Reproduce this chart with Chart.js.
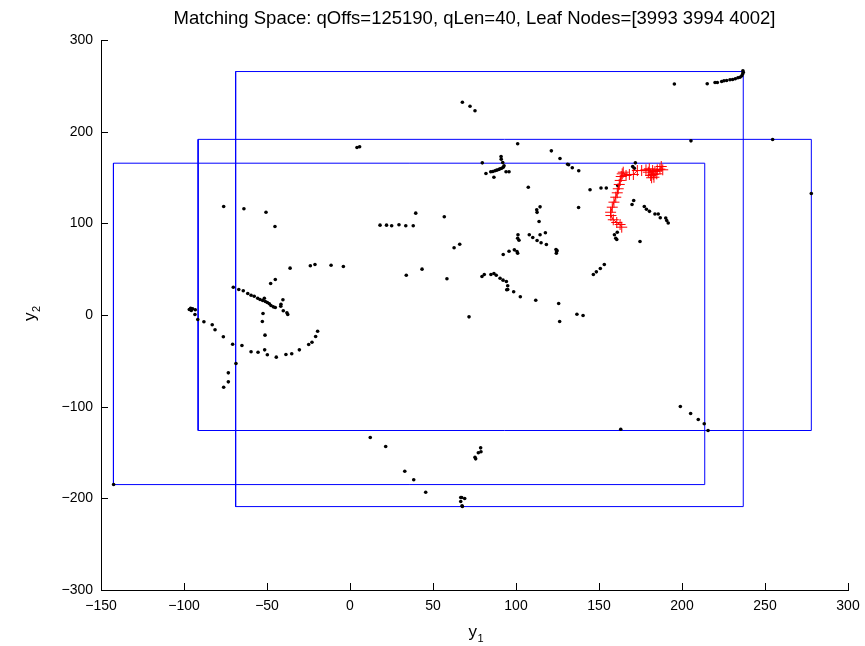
<!DOCTYPE html>
<html>
<head>
<meta charset="utf-8">
<script src="https://cdn.jsdelivr.net/npm/chart.js@4.4.1/dist/chart.umd.min.js"></script>
<style>
html,body{margin:0;padding:0;background:#fff;}
canvas{display:block;}
</style>
</head>
<body>
<canvas id="c" width="865" height="646"></canvas>
<script>
// ---- data ----
const titleText = "Matching Space: qOffs=125190, qLen=40, Leaf Nodes=[3993 3994 4002]";
const xTicks = [-150, -100, -50, 0, 50, 100, 150, 200, 250, 300];
const yTicks = [-300, -200, -100, 0, 100, 200, 300];

// leaf node bounding boxes
const boxLeft   = [-142.5, -91.5, -68.9];
const boxRight  = [213.7, 277.9, 236.9];
const boxBottom = [-185.0, -126.0, -209.0];
const boxTop    = [165.6, 191.6, 265.6];

// database points (black dots)
const dotX = [-76.1,-63.9,-50.6,-45.2,-36.1,-23.9,-21.1,-11.4,-4.0,-45.0,-47.8,-70.3,-67.0,-64.3,-61.6,-59.6,-57.7,-55.6,-54.2,-52.6,-51.6,-51.0,-49.8,-48.6,-47.6,-46.2,-45.0,-40.4,-41.6,-41.7,-40.2,-38.0,-37.5,-52.4,-52.8,-51.2,-96.8,-96.0,-94.8,-93.2,-95.6,-93.4,-91.7,-88.0,-83.0,-81.3,-76.3,-70.7,-65.1,-59.6,-55.4,-51.4,-49.8,-44.4,-38.6,-35.1,-30.5,-24.9,-22.9,-20.7,-19.5,-68.7,-73.3,-73.3,-76.1,
4.2,5.8,67.7,72.3,75.3,101.0,121.3,126.5,131.1,131.7,133.9,137.8,79.7,91.0,91.1,92.0,81.9,84.8,86.0,87.3,88.4,89.6,90.4,91.4,92.3,92.8,86.7,94.0,95.8,107.4,
18.1,22.0,25.1,29.5,33.6,38.1,39.6,56.8,33.9,43.4,58.4,62.7,66.1,71.7,79.5,80.9,84.9,86.7,88.1,90.4,92.2,94.2,95.0,94.4,95.0,98.6,102.6,111.9,125.7,126.3,136.7,140.4,92.3,95.8,99.0,100.6,101.0,101.2,101.0,101.8,108.0,110.1,112.7,114.5,115.1,117.7,118.3,112.5,112.7,114.5,113.9,124.1,124.5,124.3,124.7,137.7,146.6,148.4,150.8,153.2,
195.4,215.2,219.9,221.3,223.9,225.3,226.9,228.9,230.5,232.1,233.7,234.9,236.0,236.6,236.9,236.7,205.4,254.6,277.9,171.9,170.3,171.3,144.6,151.2,154.4,161.3,170.9,169.9,177.3,178.6,180.4,183.7,185.7,186.9,190.2,190.8,191.7,159.3,160.1,160.7,161.0,174.7,
199.0,205.2,209.8,213.4,215.7,163.1,78.7,78.9,77.3,75.3,75.7,12.2,21.5,33.0,38.4,45.6,66.7,67.3,69.1,66.7,67.5,67.7,-142.4];
const dotY = [118.4,115.9,112.1,96.5,51.1,53.7,55.1,54.3,52.9,38.7,34.4,30.3,27.8,26.4,23.5,21.6,20.5,18.3,16.9,15.8,18.3,14.7,13.6,12.2,10.4,8.9,8.2,16.6,11.8,9.6,4.6,2.4,0.5,1.6,-7.1,-22.0,6.0,7.4,6.8,5.7,4.9,0.5,-4.9,-7.4,-10.7,-16.1,-23.8,-31.9,-33.3,-40.1,-40.6,-38.0,-43.4,-46.0,-43.1,-42.3,-38.0,-32.2,-29.7,-23.5,-17.7,-52.9,-63.1,-72.9,-78.8,
182.7,183.5,232.1,227.8,222.8,186.8,179.1,170.7,164.5,163.9,160.6,157.3,166.0,172.9,170.0,166.4,154.4,156.2,156.5,157.3,158.0,158.7,159.5,160.1,161.2,162.8,150.3,156.2,156.2,139.4,
98.0,98.0,97.3,98.4,97.4,97.3,111.1,107.2,43.4,50.0,39.5,73.3,77.2,-2.0,42.0,44.2,44.2,45.3,43.4,40.1,38.0,36.5,31.9,27.5,27.8,25.3,19.9,16.1,12.5,-7.1,0.9,-0.5,66.0,69.6,71.1,69.3,67.4,87.5,83.8,81.6,87.5,84.5,81.3,87.5,78.8,89.7,76.9,114.9,112.0,118.0,102.0,71.5,69.3,67.4,70.4,117.3,44.2,47.1,50.7,55.1,
252.0,252.2,253.6,253.6,254.7,255.5,255.8,256.6,256.9,257.7,258.8,259.4,260.9,263.1,264.9,266.4,190.0,191.4,132.5,166.0,162.0,160.1,136.6,138.5,138.5,141.3,124.9,120.5,118.4,115.3,113.1,110.2,110.2,106.1,105.8,103.1,100.4,87.5,83.8,82.4,90.3,80.2,
-99.8,-107.5,-114.0,-118.7,-126.0,-124.6,-144.9,-149.2,-150.3,-155.1,-156.9,-133.6,-143.5,-170.4,-179.8,-193.3,-199.1,-199.1,-200.2,-203.5,-208.1,-208.9,-184.9];

// query trace (red plus markers)
const traceX = [163.7,162.7,160.7,158.6,157.2,157.0,158.0,159.0,160.1,161.0,161.6,162.2,162.8,163.4,164.0,164.6,166.3,168.3,170.7,173.1,175.7,178.3,180.3,182.3,181.1,181.7,183.1,182.7,184.8,183.7,185.1,186.7,187.5,188.4,179.7];
const traceY = [95.8,98.7,100.9,103.9,108.5,112.1,117.6,123.1,128.5,133.3,137.7,142.4,146.8,151.1,154.0,155.8,152.2,153.3,153.3,157.6,157.6,158.4,159.5,157.6,152.2,149.7,150.3,153.3,154.0,156.5,158.4,159.1,162.0,158.4,155.8];

// ---- build datasets ----
const fontFamily = "'Liberation Sans', Arial, Helvetica, sans-serif";
const datasets = [];
datasets.push({
  label: 'query', order: 0,
  data: traceX.map((x, i) => ({x: x, y: traceY[i]})),
  showLine: true, borderColor: 'rgb(255,0,0)', borderWidth: 1,
  pointStyle: 'cross', pointRadius: 5.5, pointBorderColor: 'rgb(255,0,0)',
  pointBorderWidth: 1, pointBackgroundColor: 'rgb(255,0,0)'
});
datasets.push({
  label: 'points', order: 1,
  data: dotX.map((x, i) => ({x: x, y: dotY[i]})),
  showLine: false, pointRadius: 1.8, pointBorderWidth: 0,
  pointBackgroundColor: '#000', pointBorderColor: '#000'
});
for (let b = 0; b < boxLeft.length; b++) {
  datasets.push({
    label: 'box' + b, order: 2,
    data: [
      {x: boxLeft[b], y: boxBottom[b]}, {x: boxRight[b], y: boxBottom[b]},
      {x: boxRight[b], y: boxTop[b]}, {x: boxLeft[b], y: boxTop[b]},
      {x: boxLeft[b], y: boxBottom[b]}
    ],
    showLine: true, borderColor: 'rgb(0,0,255)', borderWidth: 1,
    pointRadius: 0, fill: false
  });
}

const fmt = v => (v < 0 ? '\u2212' + Math.abs(v) : String(v));

const decorPlugin = {
  id: 'decor',
  afterDraw(chart) {
    const ctx = chart.ctx, a = chart.chartArea;
    const xs = chart.scales.x, ys = chart.scales.y;
    ctx.save();
    // inward tick marks
    ctx.strokeStyle = '#000'; ctx.lineWidth = 1;
    ctx.beginPath();
    xTicks.forEach(v => {
      const px = Math.round(xs.getPixelForValue(v)) + 0.5;
      ctx.moveTo(px, a.bottom); ctx.lineTo(px, a.bottom - 7);
    });
    yTicks.forEach(v => {
      const py = Math.round(ys.getPixelForValue(v)) + 0.5;
      ctx.moveTo(a.left, py); ctx.lineTo(a.left + 7, py);
    });
    ctx.stroke();
    // title
    const cx = (a.left + a.right) / 2;
    ctx.fillStyle = '#000';
    ctx.font = '18.5px ' + fontFamily;
    ctx.textAlign = 'center'; ctx.textBaseline = 'alphabetic';
    ctx.fillText(titleText, cx, 24);
    // x label y1
    ctx.font = '17px ' + fontFamily;
    ctx.textAlign = 'left';
    ctx.fillText('y', cx - 6, 637);
    ctx.font = '11px ' + fontFamily;
    ctx.fillText('1', cx + 3, 642);
    // y label y2
    ctx.save();
    ctx.translate(35, (a.top + a.bottom) / 2);
    ctx.rotate(-Math.PI / 2);
    ctx.font = '17px ' + fontFamily;
    ctx.textAlign = 'left';
    ctx.fillText('y', -6, 0);
    ctx.font = '11px ' + fontFamily;
    ctx.fillText('2', 3, 5);
    ctx.restore();
    ctx.restore();
  }
};

new Chart(document.getElementById('c'), {
  type: 'scatter',
  data: { datasets: datasets },
  options: {
    responsive: false, animation: false,
    layout: { padding: { left: 0, right: 17, top: 40, bottom: 0 } },
    plugins: { legend: { display: false }, tooltip: { enabled: false }, title: { display: false } },
    scales: {
      x: {
        type: 'linear', min: -150, max: 300,
        afterFit: s => { s.height = 56; s.paddingLeft = 0; s.paddingRight = 0; },
        afterBuildTicks: s => { s.ticks = xTicks.map(v => ({value: v})); },
        grid: { display: false, drawTicks: false },
        border: { display: true, color: '#000', width: 1 },
        ticks: { autoSkip: false, maxRotation: 0, padding: 8, color: '#000',
                 font: { family: fontFamily, size: 14 }, callback: v => fmt(v) }
      },
      y: {
        type: 'linear', min: -300, max: 300,
        afterFit: s => { s.width = 101; s.paddingTop = 0; s.paddingBottom = 0; },
        afterBuildTicks: s => { s.ticks = yTicks.map(v => ({value: v})); },
        grid: { display: false, drawTicks: false },
        border: { display: true, color: '#000', width: 1 },
        ticks: { autoSkip: false, padding: 8, color: '#000',
                 font: { family: fontFamily, size: 14 }, callback: v => fmt(v) }
      }
    }
  },
  plugins: [decorPlugin]
});
</script>
</body>
</html>
